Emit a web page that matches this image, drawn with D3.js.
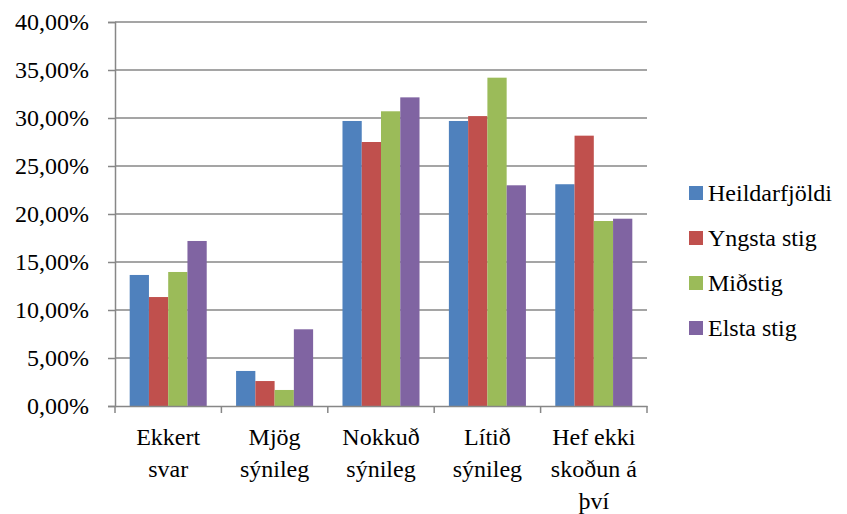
<!DOCTYPE html>
<html>
<head>
<meta charset="utf-8">
<script src="https://cdn.jsdelivr.net/npm/d3@7"></script>
<style>
body { margin: 0; background: #fff; }
svg text { font-family: "Liberation Serif", Tinos, "Times New Roman", Times, "DejaVu Serif", serif; fill: #000; }
</style>
</head>
<body>
<svg id="chart" width="847" height="514"></svg>
<script>
const categories = [
	['Ekkert', 'svar'],
	['Mjög', 'sýnileg'],
	['Nokkuð', 'sýnileg'],
	['Lítið', 'sýnileg'],
	['Hef ekki', 'skoðun á', 'því']
];
const seriesNames = ['Heildarfjöldi', 'Yngsta stig', 'Miðstig', 'Elsta stig'];
const heildarfjoldi = [13.65, 3.65, 29.69, 29.69, 23.1];
const yngstaStig = [11.35, 2.6, 27.5, 30.2, 28.16];
const midstig = [13.96, 1.67, 30.7, 34.2, 19.27];
const elstaStig = [17.19, 7.99, 32.15, 22.99, 19.51];
const yTicks = [0, 5, 10, 15, 20, 25, 30, 35, 40];

const colors = ['#4F81BD', '#C0504D', '#9BBB59', '#8064A2'];
const series = [heildarfjoldi, yngstaStig, midstig, elstaStig];
const FONT = '"Liberation Serif", Tinos, "Times New Roman", Times, "DejaVu Serif", serif';

const plotLeft = 115, plotRight = 647, plotTop = 22, plotBottom = 406;
const svg = d3.select('#chart');

const x0 = d3.scaleBand()
	.domain(d3.range(categories.length))
	.range([plotLeft, plotRight]);
const x1 = d3.scaleBand()
	.domain(d3.range(series.length))
	.range([x0.bandwidth() * 0.138, x0.bandwidth() * 0.862]);
const y = d3.scaleLinear().domain([0, 40]).range([plotBottom, plotTop]);

const fmt = v => d3.format('.2f')(v).replace('.', ',') + '%';

// grid lines
svg.append('g')
	.selectAll('line')
	.data(yTicks.slice(1))
	.join('line')
	.attr('x1', plotLeft).attr('x2', plotRight)
	.attr('y1', d => y(d)).attr('y2', d => y(d))
	.attr('stroke', '#878787')
	.attr('stroke-width', 1.5);

// bars
const groups = svg.append('g')
	.selectAll('g')
	.data(categories.map((c, i) => i))
	.join('g')
	.attr('transform', i => `translate(${x0(i)},0)`);

groups.selectAll('rect')
	.data(i => series.map((s, j) => ({ j, v: s[i] })))
	.join('rect')
	.attr('x', d => x1(d.j))
	.attr('width', x1.bandwidth())
	.attr('y', d => y(d.v))
	.attr('height', d => plotBottom - y(d.v))
	.attr('fill', d => colors[d.j]);

// y axis
const yAxis = svg.append('g')
	.attr('transform', `translate(${plotLeft},0)`)
	.call(d3.axisLeft(y).tickValues(yTicks).tickFormat(fmt).tickSize(7).tickPadding(19))
	.attr('font-family', FONT)
	.attr('font-size', 24);
yAxis.select('.domain').attr('stroke', '#878787').attr('stroke-width', 1.5);
yAxis.selectAll('.tick line').attr('stroke', '#878787').attr('stroke-width', 1.5);
yAxis.selectAll('.tick text').attr('fill', '#000');

// x axis
const xAxis = svg.append('g')
	.attr('transform', `translate(0,${plotBottom})`)
	.call(d3.axisBottom(x0).tickValues([]).tickSizeOuter(0));
xAxis.select('.domain').attr('stroke', '#878787').attr('stroke-width', 1.5);
xAxis.selectAll('line.bound')
	.data(d3.range(categories.length + 1))
	.join('line')
	.attr('class', 'bound')
	.attr('x1', i => plotLeft + i * x0.step()).attr('x2', i => plotLeft + i * x0.step())
	.attr('y1', 0).attr('y2', 7)
	.attr('stroke', '#878787')
	.attr('stroke-width', 1.5);

svg.append('g')
	.attr('font-family', FONT)
	.selectAll('text')
	.data(categories)
	.join('text')
	.attr('x', (c, i) => x0(i) + x0.bandwidth() / 2)
	.attr('y', 445)
	.attr('text-anchor', 'middle')
	.attr('font-size', 24)
	.selectAll('tspan')
	.data(c => c)
	.join('tspan')
	.attr('x', function () { return this.parentNode.getAttribute('x'); })
	.attr('dy', (d, k) => k === 0 ? 0 : 32)
	.text(d => d);

// legend
const legend = svg.append('g')
	.attr('font-family', FONT)
	.selectAll('g')
	.data(seriesNames)
	.join('g')
	.attr('transform', (d, i) => `translate(689,${193 + i * 45})`);
legend.append('rect')
	.attr('x', 0).attr('y', -7)
	.attr('width', 14).attr('height', 14)
	.attr('fill', (d, i) => colors[i]);
legend.append('text')
	.attr('x', 19).attr('y', 8)
	.attr('font-size', 24)
	.text(d => d);
</script>
</body>
</html>
